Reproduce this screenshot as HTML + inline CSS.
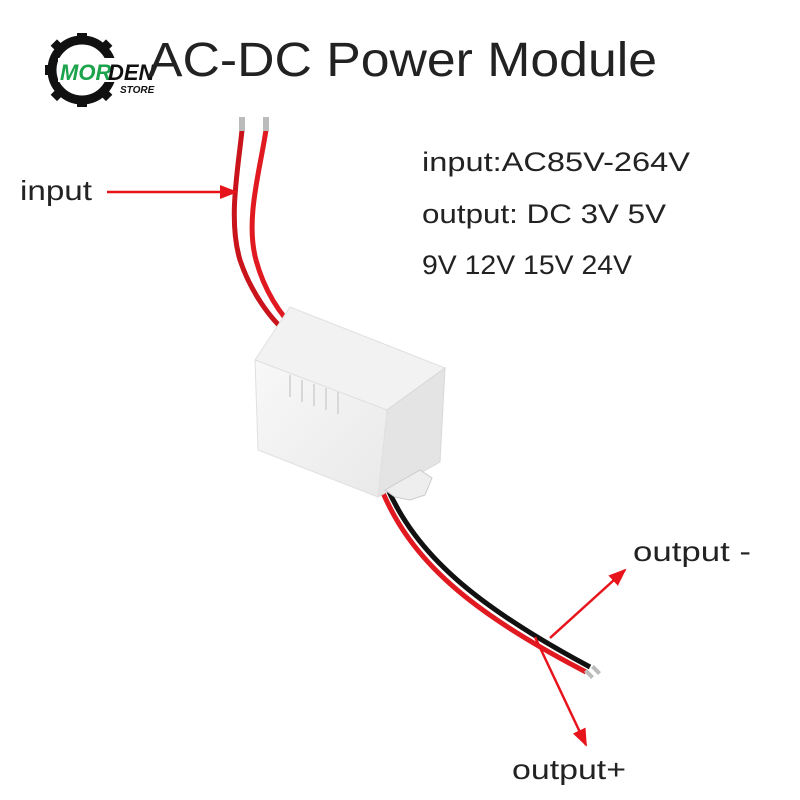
<!DOCTYPE html>
<html><head><style>
body{margin:0;background:#fff;}
svg{display:block}
text{font-family:"Liberation Sans",sans-serif;}
</style></head><body>
<svg width="800" height="800" viewBox="0 0 800 800">
<defs>
<marker id="ah" markerWidth="18" markerHeight="14" refX="16" refY="7" orient="auto" markerUnits="userSpaceOnUse"><path d="M0,0 L18,7 L0,14 z" fill="#e8141c"/></marker>
<linearGradient id="gf" x1="0" y1="0" x2="1" y2="1"><stop offset="0" stop-color="#f8f8f8"/><stop offset="1" stop-color="#e9e9e9"/></linearGradient>
</defs>
<!-- logo -->
<circle cx="82" cy="70" r="30" fill="none" stroke="#111" stroke-width="9"/>
<g fill="#111">
<rect x="77" y="33" width="10" height="9"/><rect x="77" y="98" width="10" height="9"/>
<rect x="45" y="65" width="9" height="10"/><rect x="110" y="65" width="9" height="10"/>
<rect x="53" y="41" width="9" height="9" transform="rotate(45 57 45)"/>
<rect x="102" y="41" width="9" height="9" transform="rotate(45 106 45)"/>
<rect x="53" y="90" width="9" height="9" transform="rotate(45 57 94)"/>
<rect x="102" y="90" width="9" height="9" transform="rotate(45 106 94)"/>
</g>
<rect x="58" y="58" width="110" height="24" fill="#fff"/>
<text x="60" y="80" font-size="22" font-weight="bold" font-style="italic" fill="#1aa34a">MOR</text>
<text x="108" y="80" font-size="22" font-weight="bold" font-style="italic" fill="#111">DEN</text>
<text x="120" y="93" font-size="10" font-weight="bold" font-style="italic" fill="#111">STORE</text>
<text x="148" y="76" font-size="48" fill="#222" textLength="509" lengthAdjust="spacingAndGlyphs">AC-DC Power Module</text>
<!-- specs -->
<text x="422" y="171" font-size="27" fill="#222" textLength="268" lengthAdjust="spacingAndGlyphs">input:AC85V-264V</text>
<text x="422" y="223" font-size="27" fill="#222" textLength="244" lengthAdjust="spacingAndGlyphs">output: DC 3V 5V</text>
<text x="422" y="274" font-size="27" fill="#222" textLength="210" lengthAdjust="spacingAndGlyphs">9V 12V 15V 24V</text>
<text x="20" y="200" font-size="28" fill="#222" textLength="72" lengthAdjust="spacingAndGlyphs">input</text>
<text x="633" y="561" font-size="28" fill="#222" textLength="118" lengthAdjust="spacingAndGlyphs">output -</text>
<text x="512" y="779" font-size="28" fill="#222" textLength="114" lengthAdjust="spacingAndGlyphs">output+</text>
<!-- input wires -->
<path d="M242,130 C238,170 228,220 240,260 C250,290 270,320 290,335" fill="none" stroke="#c8141a" stroke-width="5"/>
<path d="M266,130 C260,170 245,220 256,260 C264,290 280,315 298,332" fill="none" stroke="#e01a20" stroke-width="5"/>
<rect x="239" y="117" width="6" height="14" fill="#bbb"/>
<rect x="263" y="117" width="6" height="14" fill="#bbb"/>
<!-- output wires -->
<path d="M381,488 C410,560 470,612 586,672" fill="none" stroke="#e01a20" stroke-width="5"/>
<path d="M386,485 C416,555 476,606 590,667" fill="none" stroke="#111" stroke-width="5"/>
<rect x="584" y="672" width="10" height="4" fill="#bbb" transform="rotate(45 589 674)"/>
<rect x="591" y="668" width="10" height="4" fill="#bbb" transform="rotate(45 596 670)"/>
<!-- module -->
<polygon points="255,360 290,307 445,368 387,410" fill="#f2f2f2" stroke="#e0e0e0"/>
<polygon points="387,410 445,368 440,462 378,497" fill="#e4e4e4" stroke="#d8d8d8"/>
<polygon points="255,360 387,410 378,497 258,450" fill="url(#gf)" stroke="#e0e0e0"/>
<polygon points="385,490 420,470 432,478 425,495 410,500 395,497" fill="#eee" stroke="#ccc"/>
<g fill="none" stroke="#d8d8d8" stroke-width="2">
<path d="M290,375 v22"/><path d="M302,380 v22"/><path d="M314,384 v22"/><path d="M326,388 v22"/><path d="M338,392 v22"/>
</g>
<!-- arrows -->
<line x1="107" y1="192" x2="236" y2="192" stroke="#e8141c" stroke-width="2.5" marker-end="url(#ah)"/>
<line x1="550" y1="638" x2="625" y2="570" stroke="#e8141c" stroke-width="2.5" marker-end="url(#ah)"/>
<line x1="535" y1="637" x2="586" y2="745" stroke="#e8141c" stroke-width="2.5" marker-end="url(#ah)"/>
</svg>
</body></html>
